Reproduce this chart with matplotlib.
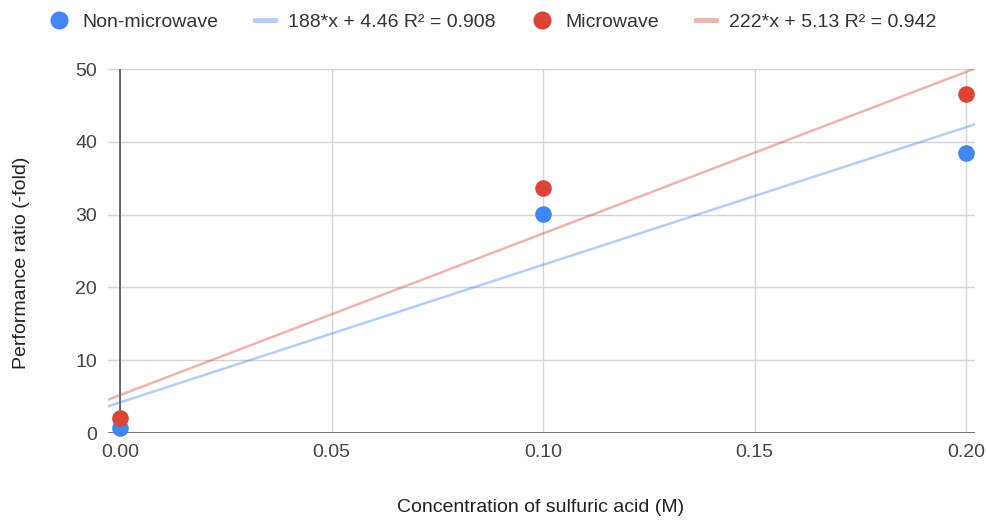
import numpy as np
import matplotlib
matplotlib.use("Agg")
import matplotlib.pyplot as plt
from matplotlib.lines import Line2D

plt.rcParams['font.family'] = ['Liberation Sans', 'DejaVu Sans']

conc = [0.0, 0.1, 0.2]
non_microwave = [0.7, 30.1, 38.5]
microwave = [2.1, 33.6, 46.5]
legend_labels = ["Non-microwave", "188*x + 4.46 R\u00b2 = 0.908",
                 "Microwave", "222*x + 5.13 R\u00b2 = 0.942"]
xticks = [0.0, 0.05, 0.10, 0.15, 0.20]
xticklabels = ["0.00", "0.05", "0.10", "0.15", "0.20"]
yticks = [0, 10, 20, 30, 40, 50]

blue = '#4285F4'
red = '#DB4437'

W, H = 986, 520
fig = plt.figure(figsize=(W/100, H/100), dpi=100)
ax = fig.add_axes([108/W, 1-433/H, 867/W, 364/H])
xmin, xmax = -12/4230, 0.2 + 9/4230
ax.set_xlim(xmin, xmax)
ax.set_ylim(0, 50)

for s in ax.spines.values():
    s.set_visible(False)
ax.set_xticks(xticks)
ax.set_xticklabels(xticklabels)
ax.set_yticks(yticks)
ax.tick_params(length=0, labelsize=14, colors='#444444')
ax.tick_params(axis='x', pad=8)
ax.tick_params(axis='y', pad=8)
ax.grid(True, color='#d4d4d4', lw=1)
ax.set_axisbelow(True)
ax.axvline(0, color='#555555', lw=1.2, zorder=1.5)
ax.axhline(0, color='#666666', lw=2.0, zorder=1.5)

xs = np.array([xmin, xmax])
for ys, c in [(non_microwave, blue), (microwave, red)]:
    m, b = np.polyfit(conc, ys, 1)
    ax.plot(xs, m*xs + b, color=c, alpha=0.4, lw=1.8, zorder=2)
ax.scatter(conc, non_microwave, s=120, color=blue, zorder=3, clip_on=False)
ax.scatter(conc, microwave, s=120, color=red, zorder=4, clip_on=False)

fig.text(541/W, 1-508/H, "Concentration of sulfuric acid (M)", fontsize=14,
         color='#222222', ha='center', va='center')
fig.text(22/W, 1-263/H, "Performance ratio (-fold)", fontsize=14,
         color='#222222', ha='center', va='center', rotation=90)

handles = [
    Line2D([], [], marker='o', ls='', color=blue, markersize=12),
    Line2D([], [], color=blue, alpha=0.4, lw=3.5),
    Line2D([], [], marker='o', ls='', color=red, markersize=12),
    Line2D([], [], color=red, alpha=0.4, lw=3.5),
]
fig.legend(handles, legend_labels, loc='center', bbox_to_anchor=(0.5, 1-22/H),
           ncol=4, frameon=False, fontsize=14, handlelength=1.0,
           handletextpad=0.7, columnspacing=1.9, labelcolor='#333333',
           borderpad=0, borderaxespad=0)

fig.savefig('out.png', dpi=100)
